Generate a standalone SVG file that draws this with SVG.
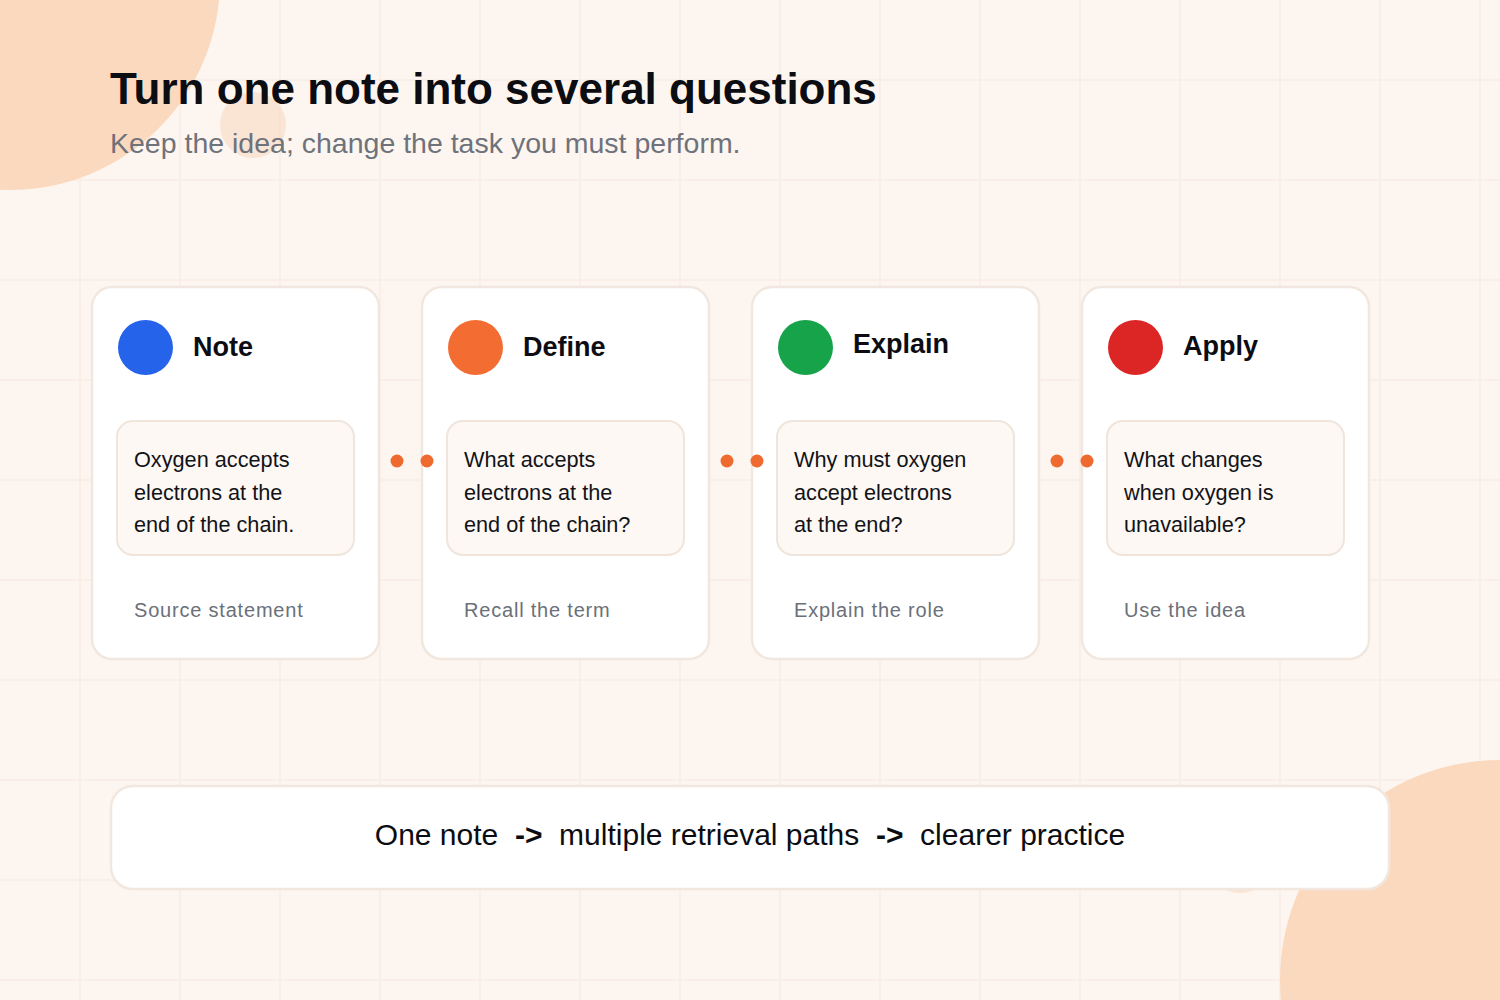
<svg xmlns="http://www.w3.org/2000/svg" width="1500" height="1000" viewBox="0 0 1500 1000">
<defs>
<style>
.grid{stroke:#f7ede5;stroke-width:1.5}
.card{fill:#ffffff;stroke:#f1e7de;stroke-width:2.5}
.inner{fill:#fdf8f3;stroke:#efe5dc;stroke-width:2}
.ttl{font-family:"Liberation Sans",Arial,sans-serif;font-weight:bold;font-size:27px;fill:#0b0d12}
.body{font-family:"Liberation Sans",Arial,sans-serif;font-size:21.7px;fill:#111318}
.foot{font-family:"Liberation Sans",Arial,sans-serif;font-size:20px;fill:#6b7079;letter-spacing:0.8px}
.dot{fill:#ef6a2e}
.blob{fill:#fad9bf}
</style>
</defs>
<rect width="1500" height="1000" fill="#fdf6f0"/>
<g id="grid">
<path class="grid" d="M80 0V1000M180 0V1000M280 0V1000M380 0V1000M480 0V1000M580 0V1000M680 0V1000M780 0V1000M880 0V1000M980 0V1000M1080 0V1000M1180 0V1000M1280 0V1000M1380 0V1000M1480 0V1000M0 80H1500M0 180H1500M0 280H1500M0 380H1500M0 480H1500M0 580H1500M0 680H1500M0 780H1500M0 880H1500M0 980H1500"/>
</g>
<g id="decor">
<circle class="blob" cx="10" cy="-20" r="210"/>
<circle cx="253" cy="125" r="33" fill="#f8d5bb" opacity="0.55"/>
<circle class="blob" cx="1500" cy="980" r="220"/>
<circle cx="1240" cy="860" r="33" fill="#f8d5bb" opacity="0.55"/>
</g>
<g id="header">
<text x="110" y="104" font-family="'Liberation Sans',Arial,sans-serif" font-weight="bold" font-size="44" fill="#0b0d12">Turn one note into several questions</text>
<text x="110" y="153" font-family="'Liberation Sans',Arial,sans-serif" font-size="28.5" fill="#6e727b">Keep the idea; change the task you must perform.</text>
</g>
<g id="node-note">
<rect class="card" x="92" y="287" width="287" height="372" rx="20"/>
<circle cx="145.5" cy="347.5" r="27.5" fill="#2563eb"/>
<text class="ttl" x="193" y="356">Note</text>
<rect class="inner" x="117" y="421" width="237" height="134" rx="16"/>
<text class="body" x="134" y="467">Oxygen accepts</text>
<text class="body" x="134" y="500">electrons at the</text>
<text class="body" x="134" y="532">end of the chain.</text>
<text class="foot" x="134" y="617">Source statement</text>
</g>
<g id="node-define">
<rect class="card" x="422" y="287" width="287" height="372" rx="20"/>
<circle cx="475.5" cy="347.5" r="27.5" fill="#f36c32"/>
<text class="ttl" x="523" y="356">Define</text>
<rect class="inner" x="447" y="421" width="237" height="134" rx="16"/>
<text class="body" x="464" y="467">What accepts</text>
<text class="body" x="464" y="500">electrons at the</text>
<text class="body" x="464" y="532">end of the chain?</text>
<text class="foot" x="464" y="617">Recall the term</text>
</g>
<g id="node-explain">
<rect class="card" x="752" y="287" width="287" height="372" rx="20"/>
<circle cx="805.5" cy="347.5" r="27.5" fill="#16a34a"/>
<text class="ttl" x="853" y="353">Explain</text>
<rect class="inner" x="777" y="421" width="237" height="134" rx="16"/>
<text class="body" x="794" y="467">Why must oxygen</text>
<text class="body" x="794" y="500">accept electrons</text>
<text class="body" x="794" y="532">at the end?</text>
<text class="foot" x="794" y="617">Explain the role</text>
</g>
<g id="node-apply">
<rect class="card" x="1082" y="287" width="287" height="372" rx="20"/>
<circle cx="1135.5" cy="347.5" r="27.5" fill="#dc2626"/>
<text class="ttl" x="1183" y="355">Apply</text>
<rect class="inner" x="1107" y="421" width="237" height="134" rx="16"/>
<text class="body" x="1124" y="467">What changes</text>
<text class="body" x="1124" y="500">when oxygen is</text>
<text class="body" x="1124" y="532">unavailable?</text>
<text class="foot" x="1124" y="617">Use the idea</text>
</g>
<g id="connectors">
<circle class="dot" cx="397" cy="461" r="6.5"/>
<circle class="dot" cx="427" cy="461" r="6.5"/>
<circle class="dot" cx="727" cy="461" r="6.5"/>
<circle class="dot" cx="757" cy="461" r="6.5"/>
<circle class="dot" cx="1057" cy="461" r="6.5"/>
<circle class="dot" cx="1087" cy="461" r="6.5"/>
</g>
<g id="summary">
<rect x="111" y="786" width="1278" height="103" rx="22" fill="#ffffff" stroke="#f1e7de" stroke-width="2.5"/>
<text x="750" y="845" text-anchor="middle" xml:space="preserve" font-family="'Liberation Sans',Arial,sans-serif" font-size="30" fill="#0b0d12">One note  <tspan font-weight="bold">-&gt;</tspan>  multiple retrieval paths  <tspan font-weight="bold">-&gt;</tspan>  clearer practice</text>
</g>
</svg>
